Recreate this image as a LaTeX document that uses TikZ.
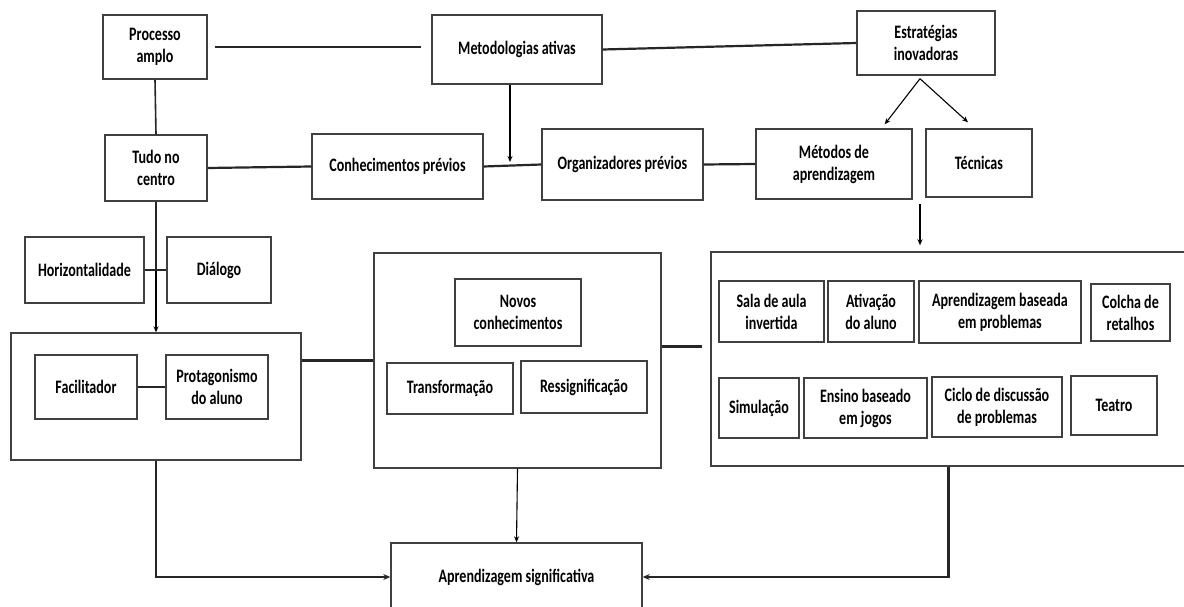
\documentclass[tikz,border=0pt]{standalone}
\usepackage{fontspec}
\setmainfont{Carlito}[FakeStretch=0.74]
\usetikzlibrary{arrows.meta}

\begin{document}
\begin{tikzpicture}[x=1pt,y=-1pt,
    font=\bfseries\fontsize{19}{22}\selectfont,
    box/.style={draw=black!75,line width=1.4pt,fill=white,align=center,inner sep=1pt},
    grp/.style={draw=black!75,line width=1.4pt},
    link/.style={line width=2.2pt,black!85},
    arr/.style={line width=1.1pt,-{Stealth[length=6pt,width=5pt]}}]
    \useasboundingbox (0,0) rectangle (1184,607);
    % groups
    \node[grp,minimum width=290,minimum height=127] (grpL) at (156,396.5) {};
    \node[grp,minimum width=287,minimum height=215] (grpM) at (517.5,360.5) {};
    \node[grp,minimum width=475,minimum height=214] (grpR) at (948.5,359) {};
    % top rows
    \node[box,minimum width=104,minimum height=64] (proc) at (155,47) {Processo\\amplo};
    \node[box,minimum width=170,minimum height=69] (meto) at (517,49.5) {Metodologias ativas};
    \node[box,minimum width=138,minimum height=64] (estr) at (926,43) {Estratégias\\inovadoras};
    \node[box,minimum width=102,minimum height=66] (tudo) at (156,168) {Tudo no\\centro};
    \node[box,minimum width=171,minimum height=65] (conh) at (397.5,166.5) {Conhecimentos prévios};
    \node[box,minimum width=161,minimum height=71] (orga) at (622.5,164.5) {Organizadores prévios};
    \node[box,minimum width=156,minimum height=70] (meta) at (834,164) {Métodos de\\aprendizagem};
    \node[box,minimum width=106,minimum height=68] (tecn) at (979,163) {Técnicas};
    \node[box,minimum width=119,minimum height=66] (hori) at (84.5,270) {Horizontalidade};
    \node[box,minimum width=104,minimum height=66] (dial) at (219,270) {Diálogo};
    % left group
    \node[box,minimum width=102,minimum height=64] (faci) at (86,387) {Facilitador};
    \node[box,minimum width=102,minimum height=64] (prot) at (217,387) {Protagonismo\\do aluno};
    % middle group
    \node[box,minimum width=126,minimum height=67] (novo) at (518,312.5) {Novos\\conhecimentos};
    \node[box,minimum width=126,minimum height=51] (tran) at (450,388.5) {Transformação};
    \node[box,minimum width=126,minimum height=52] (ress) at (584,387) {Ressignificação};
    % right group
    \node[box,minimum width=105,minimum height=61] (sala) at (771.5,311.5) {Sala de aula\\invertida};
    \node[box,minimum width=86,minimum height=61] (ativ) at (871,311.5) {Ativação\\do aluno};
    \node[box,minimum width=162,minimum height=62] (apbp) at (1000,312) {Aprendizagem baseada\\em problemas};
    \node[box,minimum width=79,minimum height=57] (colc) at (1130.5,312.5) {Colcha de\\retalhos};
    \node[box,minimum width=80,minimum height=60] (simu) at (759,408) {Simulação};
    \node[box,minimum width=123,minimum height=60] (ensi) at (865.5,408) {Ensino baseado\\em jogos};
    \node[box,minimum width=130,minimum height=60] (cicl) at (997,407) {Ciclo de discussão\\de problemas};
    \node[box,minimum width=86,minimum height=59] (teat) at (1114,405.5) {Teatro};
    % bottom
    \node[box,minimum width=251,minimum height=68] (apsg) at (516.5,577) {Aprendizagem significativa};
    \coordinate (mc) at (510,164);
    \coordinate (tc) at (920,204);

    \draw[link,shorten <=7pt,shorten >=10pt] (proc.east) -- (proc.east -| meto.west);
    \draw[link] (meto.east) -- (estr.west);
    \draw[link,line width=1.6pt] (proc.south) -- (tudo.north);
    \draw[link] (tudo.east) -- (conh.west);
    \draw[link] (conh.east) -- (orga.west);
    \draw[link] (orga.east) -- (meta.west);
    \draw[arr] (meto.south -| mc) -- ([yshift=2pt]mc);
    \draw[arr] ([xshift=-6pt,yshift=-3pt]estr.south) -- ([xshift=-28pt,yshift=4pt]meta.north east);
    \draw[arr] ([xshift=-6pt,yshift=-3pt]estr.south) -- ([xshift=-11pt,yshift=6pt]tecn.north);
    \draw[arr,shorten >=6pt] (tc) -- (tc |- grpR.north);
    \draw[link,line width=1.6pt] (tudo.south) -- (tudo.south |- hori.east);
    \draw[arr,line width=1.4pt] (tudo.south |- hori.east) -- (grpL.north);
    \draw[link,line width=1.6pt] (hori.east) -- (dial.west);
    \draw[link,line width=1.6pt] (faci.east) -- (prot.west);
    \draw[link] (grpM.west -| grpL.east) -- (grpM.west);
    \draw[link,shorten >=8pt] ([yshift=14pt]grpM.east) -- ([yshift=14pt]grpM.east -| grpR.west);
    \draw[arr] (grpM.south) -- (apsg.north);
    \draw[link,-{Stealth[length=7pt,width=6pt]}] (grpL.south) |- (apsg.west);
    \draw[link,-{Stealth[length=7pt,width=6pt]}] (grpR.south) |- (apsg.east);
\end{tikzpicture}
\end{document}
